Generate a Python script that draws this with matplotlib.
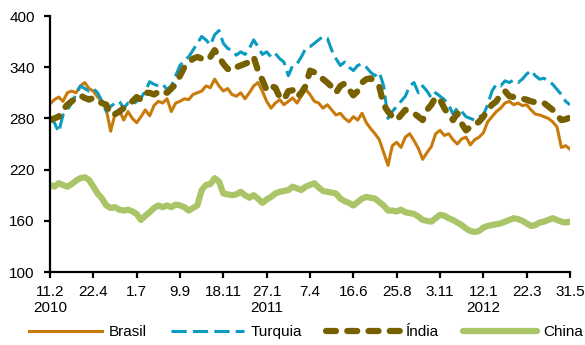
import numpy as np
import pandas as pd
import matplotlib
matplotlib.use('Agg')
import matplotlib.pyplot as plt

plt.rcParams['font.family'] = ['Liberation Sans', 'DejaVu Sans']
plt.rcParams['font.size'] = 11

# weekly observations, 11.2.2010 -> 31.5.2012
dates = pd.date_range('2010-02-11', periods=121, freq='7D')

brasil = [297, 302, 305, 300, 310, 312, 310, 318, 322, 315,
          312, 305, 300, 290, 265, 285, 290, 278, 288, 280,
          275, 282, 290, 283, 295, 300, 298, 303, 288, 298,
          300, 303, 302, 308, 310, 312, 318, 316, 326, 318,
          312, 315, 308, 306, 310, 303, 310, 318, 322, 312,
          300, 292, 298, 302, 296, 300, 304, 298, 306, 314,
          308, 300, 298, 292, 296, 290, 284, 286, 280, 276,
          282, 278, 286, 275, 268, 262, 255, 240, 225, 248,
          252, 246, 258, 262, 254, 245, 232, 240, 247, 262,
          266, 260, 262, 255, 250, 256, 258, 249, 255, 258,
          263, 276, 282, 288, 292, 298, 300, 296, 298, 295,
          296, 290, 285, 284, 282, 280, 276, 270, 246, 248,
          244]

turquia = [282, 275, 264, 284, 290, 298, 308, 318, 315, 312,
           315, 310, 300, 288, 294, 298, 300, 292, 298, 296,
           300, 304, 312, 323, 320, 318, 320, 314, 318, 330,
           342, 348, 352, 360, 368, 376, 372, 366, 378, 383,
           368, 362, 360, 354, 358, 355, 362, 372, 364, 355,
           358, 352, 356, 350, 346, 330, 342, 344, 352, 362,
           364, 368, 372, 376, 374, 360, 350, 342, 346, 340,
           336, 342, 344, 340, 334, 330, 334, 318, 280, 288,
           294, 300, 306, 318, 322, 310, 318, 312, 304, 310,
           306, 302, 296, 285, 292, 288, 282, 280, 278, 282,
           284, 296, 312, 320, 318, 324, 322, 325, 322, 326,
           332, 336, 330, 326, 327, 324, 320, 314, 308, 300,
           296]

india = [278, 280, 282, 290, 296, 300, 304, 307, 304, 302,
         304, 300, 298, 296, 284, 285, 288, 292, 296, 300,
         305, 302, 310, 310, 308, 311, 313, 310, 315, 320,
         330, 340, 345, 350, 352, 350, 348, 352, 360, 352,
         344, 338, 336, 340, 342, 344, 346, 352, 336, 325,
         313, 318, 316, 305, 302, 312, 313, 305, 310, 318,
         336, 334, 331, 326, 322, 317, 310, 318, 321, 314,
         307, 312, 322, 326, 327, 322, 317, 296, 288, 282,
         278, 284, 290, 288, 286, 282, 278, 290, 296, 305,
         302, 292, 284, 278, 286, 274, 266, 270, 273, 276,
         282, 290, 296, 300, 308, 312, 306, 305, 304, 303,
         302, 300, 299, 298, 298, 294, 290, 284, 278, 279,
         281]

china = [202, 200, 204, 202, 200, 203, 207, 210, 211, 208,
         200, 192, 186, 178, 175, 176, 173, 172, 173, 171,
         168, 161, 166, 170, 175, 178, 176, 178, 176, 179,
         178, 176, 172, 175, 178, 196, 202, 203, 210, 206,
         192, 191, 190, 191, 194, 190, 187, 190, 186, 181,
         185, 188, 192, 194, 195, 196, 200, 198, 196, 200,
         202, 204, 199, 195, 194, 193, 192, 186, 183, 181,
         178, 182, 186, 188, 187, 186, 182, 178, 172, 172,
         171, 173, 170, 169, 168, 165, 161, 160, 159, 163,
         167, 166, 163, 161, 158, 155, 151, 148, 147, 148,
         152, 154, 155, 156, 157, 159, 161, 163, 162, 160,
         157, 154, 155, 158, 159, 161, 163, 161, 159, 158,
         159]

tick_labels = ['11.2\n2010', '22.4', '1.7', '9.9', '18.11', '27.1\n2011', '7.4',
               '16.6', '25.8', '3.11', '12.1\n2012', '22.3', '31.5']
y_ticks = [100, 160, 220, 280, 340, 400]

fig = plt.figure(figsize=(5.85, 3.45), dpi=100)
ax = fig.add_axes([50 / 585, 1 - 272 / 345, 520 / 585, 256 / 345])

ax.plot(dates, brasil, color='#C87A0A', linewidth=2.2, solid_joinstyle='round',
        label='Brasil')
ax.plot(dates, turquia, color='#0A9BC0', linewidth=2.2, dashes=(5, 2),
        label='Turquia')
ax.plot(dates, india, color='#776000', linewidth=4.5, dashes=(1.6, 1.8),
        dash_capstyle='round', label='Índia')
ax.plot(dates, china, color='#AAC567', linewidth=4.5, solid_joinstyle='round',
        solid_capstyle='round', label='China')

ax.set_xlim(dates[0], dates[-1])
ax.set_ylim(100, 400)
ax.set_yticks(y_ticks)
ax.set_xticks(dates[::10])
ax.set_xticklabels(tick_labels)

for side in ['top', 'right']:
    ax.spines[side].set_visible(False)
for side in ['left', 'bottom']:
    ax.spines[side].set_linewidth(1.6)
    ax.spines[side].set_color('black')
ax.tick_params(axis='both', width=1.6, length=4, labelsize=11, color='black')
ax.tick_params(axis='y', pad=7)
ax.tick_params(axis='x', pad=5)

fig.legend(loc='center', bbox_to_anchor=(0.523, 0.038), ncol=4, frameon=False,
           handlelength=4.8, handletextpad=0.4, columnspacing=1.6,
           borderpad=0, fontsize=11)

plt.savefig('out.png', dpi=100)
plt.close(fig)
